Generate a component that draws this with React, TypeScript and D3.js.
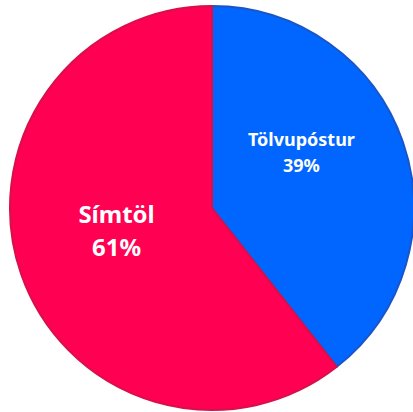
import React from "react";
import * as d3 from "d3";

const categories = ["Tölvupóstur", "Símtöl"];
const values = [39.4, 60.6];
const colors = ["#0066ff", "#ff0052"];
const strokes = ["#1a55c8", "#d6104a"];

export default function App() {
  const W = 413, H = 412;
  const cx = 212, cy = 208, r = 202;
  const pie = d3.pie<number>().sort(null).value((d) => d)(values);
  const arc = d3.arc<d3.PieArcDatum<number>>().innerRadius(0).outerRadius(r);
  const labelArc = d3.arc<d3.PieArcDatum<number>>().innerRadius(0).outerRadius(r);
  const labelCfg = [
    { size: 18, gap: 26, dx: -6, dy: -22 },
    { size: 24, gap: 33, dx: 0, dy: -10 },
  ];
  return (
    <svg width={W} height={H} style={{ position: "absolute", left: 0, top: 0 }}>
      <g transform={`translate(${cx},${cy})`}>
        {pie.map((p, i) => (
          <path key={i} d={arc(p) || ""} fill={colors[i]} stroke={strokes[i]} strokeWidth={2} strokeLinejoin="round" />
        ))}
        {pie.map((p, i) => {
          const [x, y] = labelArc.centroid(p);
          const c = labelCfg[i];
          const lx = x + c.dx, ly = y + c.dy;
          return (
            <text key={"t" + i} x={lx} y={ly} textAnchor="middle" fill="#fff" fontFamily="'Noto Sans', Roboto, sans-serif" fontWeight={700} fontSize={c.size}>
              <tspan x={lx} dy={-c.gap / 2 + c.size * 0.35}>{categories[i]}</tspan>
              <tspan x={lx} dy={c.gap}>{Math.round(values[i])}%</tspan>
            </text>
          );
        })}
      </g>
    </svg>
  );
}
